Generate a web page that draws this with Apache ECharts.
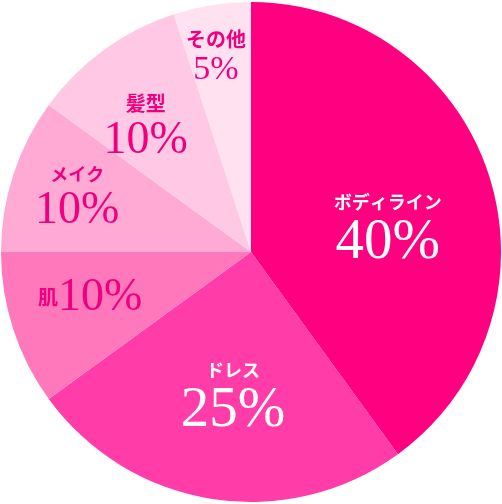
<!DOCTYPE html>
<html>
<head>
<meta charset="utf-8">
<script src="https://cdn.jsdelivr.net/npm/echarts@6/dist/echarts.min.js"></script>
<style>
  html, body { margin: 0; padding: 0; background: #fff; }
  #main { width: 502px; height: 504px; }
</style>
</head>
<body>
<div id="main"></div>
<script>
// data
var categories = ['ボディライン', 'ドレス', '肌', 'メイク', '髪型', 'その他'];
var values = [40, 25, 10, 10, 10, 5];

// styles
var sliceColors = ['#FF0080', '#FF3CA8', '#FF78BC', '#FFAAD5', '#FFC8E4', '#FFE1EF'];
var textColors = ['#fff', '#fff', '#F0007F', '#F0007F', '#F0007F', '#F0007F'];
var pctSizes = [57, 57, 46, 46, 46, 34];
var nameSizes = [18, 18, 20, 18, 20, 20];
var labelOffsets = [[15, 18], [2, 20], [-39, 6], [-52, -15], [-30, -22], [-15, -69]];

var myChart = echarts.init(document.getElementById('main'));

var pieData = categories.map(function (name, i) {
  var sameLine = name === '肌';
  return {
    name: name,
    value: values[i],
    itemStyle: { color: sliceColors[i] },
    label: {
      offset: labelOffsets[i],
      formatter: sameLine
        ? '{n|' + name + '}{p|' + values[i] + '%}'
        : '{n|' + name + '}\n{p|' + values[i] + '%}',
      rich: {
        n: {
          fontFamily: 'Noto Sans CJK JP',
          fontWeight: 'bold',
          fontSize: nameSizes[i],
          color: textColors[i],
          lineHeight: sameLine ? pctSizes[i] : nameSizes[i] + 8
        },
        p: {
          fontFamily: 'Liberation Serif',
          fontSize: pctSizes[i],
          color: textColors[i],
          lineHeight: pctSizes[i]
        }
      }
    }
  };
});

var option = {
  backgroundColor: '#fff',
  animation: false,
  series: [
    {
      type: 'pie',
      center: ['50%', '50%'],
      radius: [0, 250],
      startAngle: 90,
      clockwise: true,
      avoidLabelOverlap: false,
      itemStyle: { borderWidth: 0 },
      label: {
        show: true,
        position: 'inside',
        align: 'center'
      },
      labelLine: { show: false },
      emphasis: { disabled: true },
      data: pieData
    }
  ]
};

// 绘制图表
myChart.setOption(option);
</script>
</body>
</html>
